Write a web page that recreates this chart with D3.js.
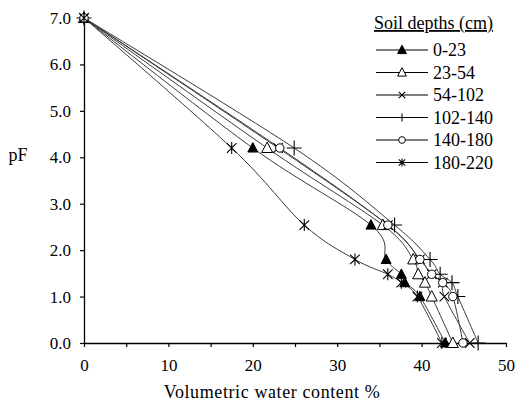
<!DOCTYPE html>
<html>
<head>
<meta charset="utf-8">
<script src="https://cdn.jsdelivr.net/npm/d3@7/dist/d3.min.js"></script>
<style>
  body { margin: 0; background: #fff; }
  svg text { font-family: "Liberation Serif", "Times New Roman", serif; fill: #000; }
</style>
</head>
<body>
<svg id="chart" width="518" height="403"></svg>
<script>
// pF levels shared by every depth
const pfLevels = [7.0, 4.2, 2.54, 1.8, 1.48, 1.3, 1.0, 0.0];

// volumetric water content (%) for each depth, one value per pF level
const depths = ["0-23", "23-54", "54-102", "102-140", "140-180", "180-220"];
const wc0_23    = [0, 20.0, 34.0, 35.8, 37.6, 38.0, 39.8, 42.8];
const wc23_54   = [0, 21.7, 35.4, 39.0, 39.6, 40.4, 41.2, 43.7];
const wc54_102  = [0, 23.0, 36.0, 39.8, 41.2, 42.5, 42.7, 45.7];
const wc102_140 = [0, 24.9, 36.8, 41.0, 42.2, 43.6, 44.3, 46.7];
const wc140_180 = [0, 23.2, 36.0, 39.8, 41.2, 42.5, 43.7, 44.9];
const wc180_220 = [0, 17.5, 26.1, 32.1, 36.0, 37.6, 39.5, 42.4];
const seriesValues = [wc0_23, wc23_54, wc54_102, wc102_140, wc140_180, wc180_220];
const markers = ["triFilled", "triOpen", "cross", "plus", "circle", "star"];

const xTicks = [0, 5, 10, 15, 20, 25, 30, 35, 40, 45, 50];
const yTicks = [0, 1, 2, 3, 4, 5, 6, 7];

const svg = d3.select("#chart");
const x = d3.scaleLinear().domain([0, 50]).range([84, 506]);
const y = d3.scaleLinear().domain([0, 7]).range([343, 18]);

// axes
const xAxis = svg.append("g")
  .attr("transform", `translate(0,${y(0)})`)
  .call(d3.axisBottom(x).tickValues(xTicks).tickSizeInner(4).tickSizeOuter(0).tickPadding(12)
    .tickFormat(d => d % 10 === 0 ? d : ""));
const yAxis = svg.append("g")
  .attr("transform", `translate(${x(0)},0)`)
  .call(d3.axisLeft(y).tickValues(yTicks).tickSizeInner(4).tickSizeOuter(0).tickPadding(9)
    .tickFormat(d3.format(".1f")));

[xAxis, yAxis].forEach(a => {
  a.select(".domain").attr("stroke", "#000").attr("stroke-width", 1.3);
  a.selectAll(".tick line").attr("stroke", "#000").attr("stroke-width", 1.2);
  a.selectAll("text").style("font-size", "17px").attr("fill", "#000");
});

svg.append("text").attr("x", 18).attr("y", 161)
  .attr("text-anchor", "middle").style("font-size", "18px").text("pF");
svg.append("text").attr("x", 272).attr("y", 398)
  .attr("text-anchor", "middle").style("font-size", "18px").style("letter-spacing", "0.6px")
  .text("Volumetric water content %");

// marker painter
function drawMarker(g, type, cx, cy, s) {
  const m = g.append("g").attr("transform", `translate(${cx},${cy})`);
  if (type === "triFilled" || type === "triOpen") {
    m.append("path")
      .attr("d", `M0,${-s * 0.6}L${s * 0.55},${s * 0.45}L${-s * 0.55},${s * 0.45}Z`)
      .attr("fill", type === "triFilled" ? "#000" : "#fff")
      .attr("stroke", "#000").attr("stroke-width", 1);
  } else if (type === "circle") {
    m.append("circle").attr("r", s * 0.42)
      .attr("fill", "#fff").attr("stroke", "#000").attr("stroke-width", 1);
  } else {
    const h = s * 0.5;
    let d = "";
    if (type === "plus") d = `M${-h},0L${h},0M0,${-h}L0,${h}`;
    if (type === "cross") d = `M${-h * 0.8},${-h * 0.8}L${h * 0.8},${h * 0.8}M${-h * 0.8},${h * 0.8}L${h * 0.8},${-h * 0.8}`;
    if (type === "star") d = `M0,${-h}L0,${h}M${-h * 0.8},${-h * 0.8}L${h * 0.8},${h * 0.8}M${-h * 0.8},${h * 0.8}L${h * 0.8},${-h * 0.8}`;
    m.append("path").attr("d", d).attr("fill", "none").attr("stroke", "#000").attr("stroke-width", 1.1);
  }
}

const line = d3.line()
  .x(d => x(d.wc))
  .y(d => y(d.pf))
  .curve(d3.curveCatmullRom.alpha(0));

const plot = svg.append("g");
seriesValues.forEach(vals => {
  const pts = vals.map((v, j) => ({ wc: v, pf: pfLevels[j] }));
  plot.append("path")
    .datum(pts)
    .attr("d", line)
    .attr("fill", "none")
    .attr("stroke", "#3a3a3a")
    .attr("stroke-width", 1);
});
const markerSize = { triFilled: 9, triOpen: 10, cross: 12, plus: 15, circle: 10, star: 12 };
seriesValues.forEach((vals, i) => {
  vals.forEach((v, j) => drawMarker(plot, markers[i], x(v), y(pfLevels[j]), markerSize[markers[i]]));
});

// legend
const legend = svg.append("g");
legend.append("text").attr("x", 374).attr("y", 29)
  .style("font-size", "18px").style("text-decoration", "underline")
  .text("Soil depths (cm)");
depths.forEach((name, i) => {
  const cy = 50 + i * 22.5;
  legend.append("line").attr("x1", 376).attr("x2", 428).attr("y1", cy).attr("y2", cy)
    .attr("stroke", "#000").attr("stroke-width", 1.2);
  drawMarker(legend, markers[i], 402, cy, 8);
  legend.append("text").attr("x", 433).attr("y", cy + 6)
    .style("font-size", "18px").text(name);
});
</script>
</body>
</html>
